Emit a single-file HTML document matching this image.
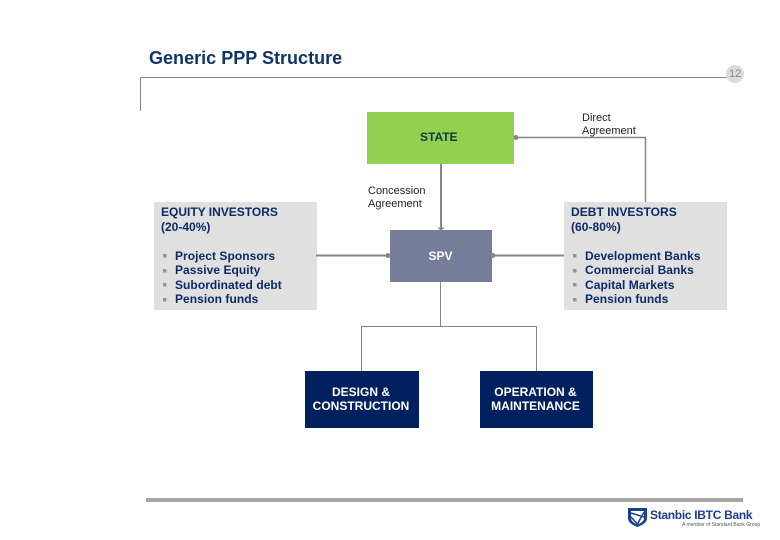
<!DOCTYPE html>
<html>
<head>
<meta charset="utf-8">
<style>
html,body{margin:0;padding:0;background:#fff}
#p{position:relative;width:780px;height:540px;overflow:hidden;background:#fff;font-family:"Liberation Sans",sans-serif}
.b{position:absolute}
.t{position:absolute;white-space:nowrap;font-size:12px;line-height:14.5px;color:#0b2a66;font-weight:bold}
.n{font-weight:normal;color:#222;font-size:11px;line-height:13px}
.w{color:#fff;text-align:center;font-weight:bold}
svg{position:absolute;left:0;top:0}
</style>
</head>
<body>
<div id="p">
<div class="b" style="left:367px;top:112px;width:147px;height:52px;background:#92d050"></div>
<div class="b" style="left:390px;top:230px;width:102px;height:52px;background:#777c98"></div>
<div class="b" style="left:154px;top:202px;width:163px;height:108px;background:#e0e0e0"></div>
<div class="b" style="left:564px;top:202px;width:163px;height:108px;background:#e0e0e0"></div>
<div class="b" style="left:305px;top:371px;width:114px;height:57px;background:#002060"></div>
<div class="b" style="left:480px;top:371px;width:113px;height:57px;background:#002060"></div>
<div class="b" style="left:146px;top:498px;width:597px;height:4px;background:#a6a6a6"></div>

<svg width="780" height="540" viewBox="0 0 780 540">
<g fill="none" stroke="#868686">
<path d="M140.500 111V77.500H727" stroke-width="1"/>
<path d="M441 164V230" stroke-width="2"/>
<path d="M516 137.500H645.500V202" stroke-width="1.500"/>
<path d="M316 255.500H390" stroke-width="2"/>
<path d="M492 255.500H564" stroke-width="2"/>
<path d="M440.500 282V326M361.500 371V326.500H536.500V371" stroke-width="1"/>
</g>
<g fill="#868686">
<circle cx="516" cy="137.500" r="2.500"/>
<path d="M437.500 227.500h7l-3.500 3.500z"/>
<circle cx="388" cy="255.500" r="2.500"/>
<circle cx="493" cy="255.500" r="2.500"/>
</g>
<circle cx="735" cy="74" r="9" fill="#dcdcdc"/>
<g fill="#939393">
<rect x="163" y="254" width="3.500" height="3.500"/><rect x="163" y="269" width="3.500" height="3.500"/><rect x="163" y="283" width="3.500" height="3.500"/><rect x="163" y="298" width="3.500" height="3.500"/>
<rect x="573" y="254" width="3.500" height="3.500"/><rect x="573" y="269" width="3.500" height="3.500"/><rect x="573" y="283" width="3.500" height="3.500"/><rect x="573" y="298" width="3.500" height="3.500"/>
</g>
<path d="M628 508h19v10c0 5-5 7-9.500 9c-4.500-2-9.500-4-9.500-9z" fill="#1b3f8f"/>
<path d="M631 511h13v7c0 3-3 5-6.500 6.500c-3.500-1.500-6.500-3.500-6.500-6.500z" fill="#fff"/>
<path d="M631 513l13 4M644 512l-6.500 12M631 517l6.500 7" stroke="#1b3f8f" stroke-width="1.500" fill="none"/>
</svg>

<div class="t" style="left:149px;top:48px;font-size:18px;line-height:20px;color:#0f3568;letter-spacing:.02px">Generic PPP Structure</div>
<div class="t" style="left:729px;top:68px;font-size:11px;line-height:13px;font-weight:normal;color:#888">12</div>
<div class="t" style="left:420px;top:130px;color:#0c3b3c">STATE</div>
<div class="t n" style="left:582px;top:111.500px">Direct<br>Agreement</div>
<div class="t n" style="left:368px;top:184.500px">Concession<br>Agreement</div>
<div class="t" style="left:161px;top:205px">EQUITY INVESTORS<br>(20-40%)</div>
<div class="t" style="left:175px;top:248.500px;letter-spacing:.05px">Project Sponsors<br>Passive Equity<br>Subordinated debt<br>Pension funds</div>
<div class="t" style="left:571px;top:205px;letter-spacing:.05px">DEBT INVESTORS<br>(60-80%)</div>
<div class="t" style="left:585px;top:248.500px;letter-spacing:.05px">Development Banks<br>Commercial Banks<br>Capital Markets<br>Pension funds</div>
<div class="t w" style="left:389.500px;top:248.500px;width:102px">SPV</div>
<div class="t w" style="left:304px;top:385px;width:114px;line-height:14px">DESIGN &amp;<br>CONSTRUCTION</div>
<div class="t w" style="left:480px;top:385px;width:111px;line-height:14px">OPERATION &amp;<br>MAINTENANCE</div>
<div class="t" style="left:650px;top:507px;font-size:12px;line-height:17px;color:#1b3f8f;letter-spacing:-.3px">Stanbic IBTC Bank</div>
<div class="t" style="left:682px;top:522px;font-size:5px;line-height:7px;font-weight:normal;color:#555">A member of Standard Bank Group</div>
</div>
</body>
</html>
